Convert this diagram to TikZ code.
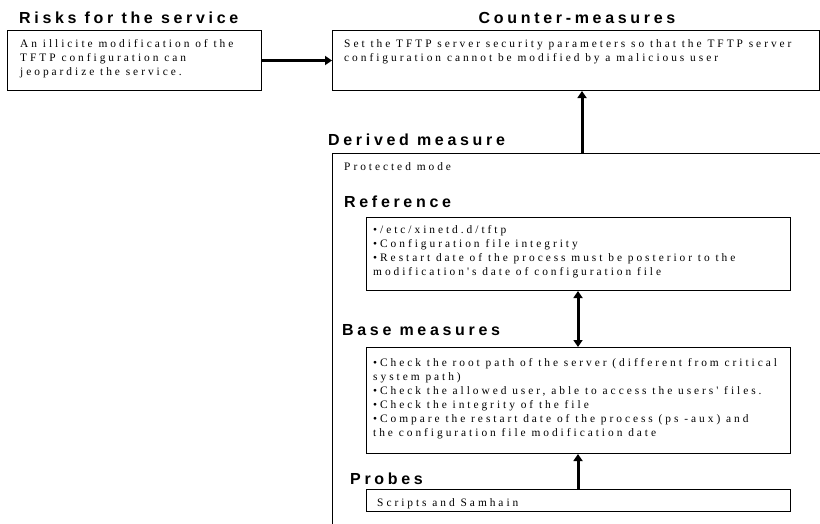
\documentclass[tikz,border=0pt]{standalone}
\usepackage{fontspec}
\setmainfont{Liberation Serif}
\newfontfamily\titlefont{Liberation Sans}[LetterSpace=23,BoldFont={Liberation Sans Bold}]
\newfontfamily\bodyfont{Liberation Serif}[LetterSpace=26]
\usetikzlibrary{arrows.meta,calc}
\tikzset{
  box/.style={draw=black, line width=1pt, inner sep=0pt, anchor=north west},
  ttl/.style={anchor=base west, inner sep=0pt, font=\titlefont\bfseries\fontsize{16}{18}\selectfont},
  txt/.style={anchor=base west, inner sep=0pt, align=left, font=\bodyfont\fontsize{11.4}{14}\selectfont},
  arr/.style={line width=3pt, -{Triangle[width=9pt,length=7pt]}},
  dblarr/.style={line width=3pt, {Triangle[width=9pt,length=7pt]}-{Triangle[width=9pt,length=7pt]}}
}
\begin{document}
\begin{tikzpicture}[x=1pt,y=-1pt]
\clip (0,0) rectangle (820,523);
% titles
\node[ttl] (t1) at (19,23) {Risks for the service};
\node[ttl, anchor=base] (t2) at (577,23) {Counter-measures};
\node[ttl] (t3) at (328,145) {Derived measure};
\node[ttl] (t4) at (344,207) {Reference};
\node[ttl] (t5) at (342,335) {Base measures};
\node[ttl] (t6) at (350,484) {Probes};
% boxes
\node[box, minimum width=254pt, minimum height=60pt] (risk) at (7,30) {};
\node[box, minimum width=487pt, minimum height=60pt] (counter) at (332,30) {};
\node[box, minimum width=520pt, minimum height=420pt] (derived) at (332,153) {};
\node[box, minimum width=424pt, minimum height=73pt] (reference) at (366,217) {};
\node[box, minimum width=424pt, minimum height=106pt] (base) at (366,347) {};
\node[box, minimum width=424pt, minimum height=22pt] (probes) at (366,489) {};
% texts (anchor = baseline of the last line)
\node[txt] (x1) at (20,75) {An illicite modification of the\\TFTP configuration can\\jeopardize the service.};
\node[txt] (x2) at (344,61) {Set the TFTP server security parameters so that the TFTP server\\configuration cannot be modified by a malicious user};
\node[txt] (x3) at (344,170) {Protected mode};
\node[txt] (x4) at (373,275) {\textbullet/etc/xinetd.d/tftp\\\textbullet Configuration file integrity\\\textbullet Restart date of the process must be posterior to the\\modification's date of configuration file};
\node[txt] (x5) at (373,436) {\textbullet Check the root path of the server (different from critical\\system path)\\\textbullet Check the allowed user, able to access the users' files.\\\textbullet Check the integrity of the file\\\textbullet Compare the restart date of the process (ps -aux) and\\the configuration file modification date};
\node[txt] (x6) at (377,506) {Scripts and Samhain};
% connectors
\draw[arr] (risk.east) -- (counter.west);
\path (derived.north west) ++(250,0) coordinate (d1);
\draw[arr] (d1) -- (d1 |- counter.south);
\path (reference.south west) ++(212,0) coordinate (r1);
\draw[dblarr] (r1) -- (r1 |- base.north);
\path (probes.north west) ++(212,0) coordinate (p1);
\draw[arr] (p1) -- (p1 |- base.south);
\end{tikzpicture}
\end{document}
